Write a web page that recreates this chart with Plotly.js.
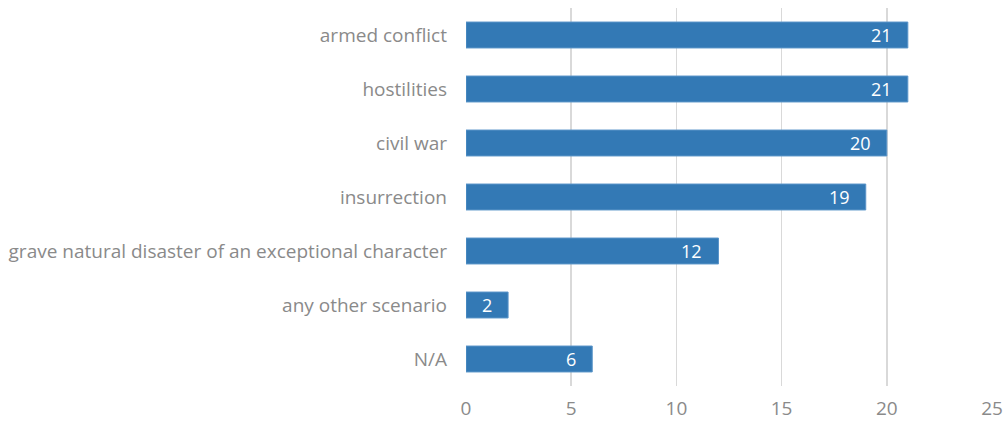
<!DOCTYPE html>
<html>
<head>
<meta charset="utf-8">
<script src="https://cdn.plot.ly/plotly-3.0.1.min.js"></script>
<style>
  html, body { margin: 0; padding: 0; background: #fff; }
  #chart { width: 1004px; height: 422px; }
</style>
</head>
<body>
<div id="chart"></div>
<script>
// categories listed top to bottom
const categories = [
  "armed conflict",
  "hostilities",
  "civil war",
  "insurrection",
  "grave natural disaster of an exceptional character",
  "any other scenario",
  "N/A"
];
const counts = [21, 21, 20, 19, 12, 2, 6];
const tickVals = [0, 5, 10, 15, 20, 25];

const data = [{
  type: "bar",
  orientation: "h",
  y: categories,
  x: counts,
  textposition: "none",
  marker: { color: "#3379b5", line: { color: "#5b95c9", width: 1 } },
  width: 0.48,
  hoverinfo: "none"
}];

// value labels sit inside the bar end, with some padding
const labels = categories.map((c, i) => ({
  x: counts[i],
  y: c,
  xref: "x",
  yref: "y",
  text: String(counts[i]),
  showarrow: false,
  xanchor: "right",
  xshift: -14,
  font: { family: "Open Sans", size: 18, color: "#ffffff" }
}));

const layout = {
  width: 1004,
  height: 422,
  margin: { l: 466, r: 12, t: 8, b: 36 },
  paper_bgcolor: "#ffffff",
  plot_bgcolor: "#ffffff",
  showlegend: false,
  font: { family: "Open Sans", size: 19, color: "#8a8a8a" },
  annotations: labels,
  xaxis: {
    range: [0, 25],
    tickvals: tickVals,
    ticktext: tickVals.map(String),
    showgrid: true,
    gridcolor: "#d9d9d9",
    gridwidth: 1.5,
    zeroline: false,
    showline: false,
    ticks: "",
    ticklabelstandoff: 9,
    tickfont: { size: 19, color: "#8a8a8a" },
    fixedrange: true
  },
  yaxis: {
    type: "category",
    autorange: "reversed",
    showgrid: false,
    zeroline: false,
    showline: false,
    ticks: "",
    ticklabelstandoff: 18,
    tickfont: { size: 19, color: "#8a8a8a" },
    fixedrange: true
  }
};

Plotly.newPlot("chart", data, layout, { displayModeBar: false, staticPlot: true });
</script>
</body>
</html>
